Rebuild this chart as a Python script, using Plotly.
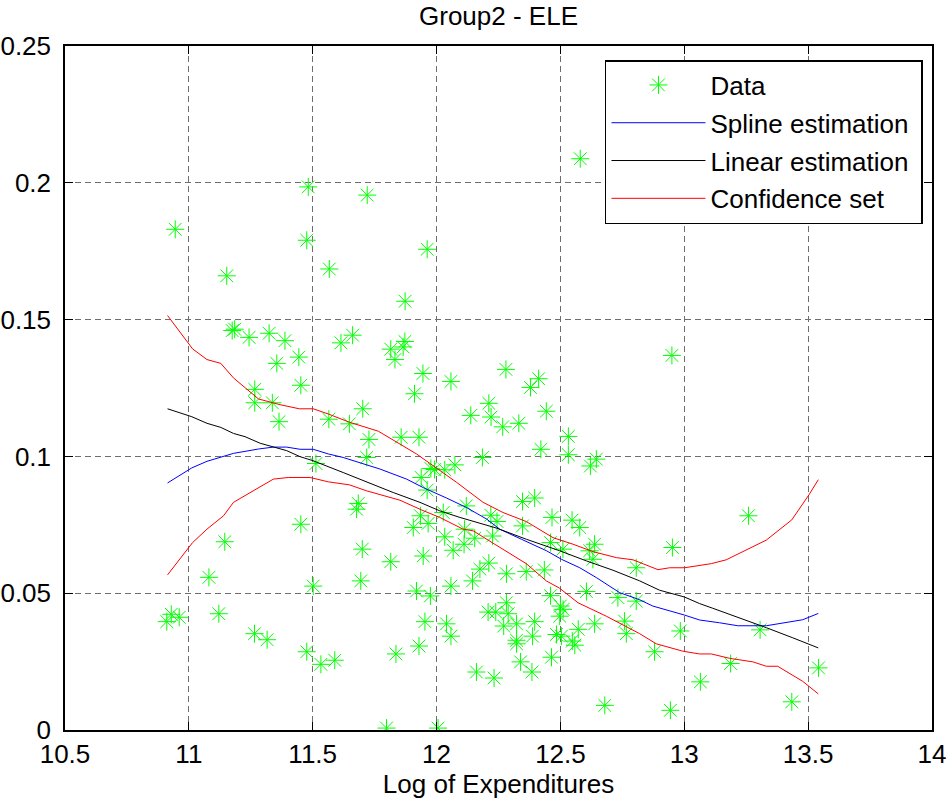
import plotly.graph_objects as go

# ---- data ----
data_x = [10.945, 11.153, 11.482, 11.476, 11.567, 11.72, 11.962, 12.58, 11.175, 11.185,
          11.243, 11.324, 11.388, 11.355, 11.444, 11.452, 11.614, 11.661, 11.266, 11.266,
          11.337, 11.364, 11.565, 11.648, 11.513, 11.684, 11.677, 11.452, 11.145, 11.081,
          11.502, 11.70, 11.694, 11.815, 10.929, 10.911, 10.961, 11.121, 11.265, 11.316,
          11.476, 11.533, 11.589, 11.873, 11.815, 11.872, 11.865, 11.832, 11.945, 12.058,
          11.911, 12.28, 12.412, 12.379, 12.211, 12.138, 12.22, 12.267, 12.332, 12.443,
          11.702, 11.727, 11.857, 11.929, 11.718, 12.532, 12.532, 12.421, 12.185, 12.645,
          12.621, 11.992, 12.033, 12.074, 11.977, 11.938, 11.962, 12.347, 12.396, 12.466,
          12.547, 12.578, 12.12, 12.219, 12.244, 12.347, 12.027, 11.935, 11.966, 11.906,
          12.033, 12.067, 12.113, 12.111, 12.154, 12.226, 12.46, 12.51, 12.618, 12.638,
          12.631, 12.806, 11.946, 12.175, 12.211, 12.145, 12.282, 12.362, 12.435, 12.058,
          11.919, 11.975, 12.46, 12.605, 12.732, 12.806, 12.282, 12.208, 12.239, 12.289,
          12.50, 12.511, 12.497, 11.953, 12.04, 12.058, 11.929, 11.836, 12.271, 12.323,
          12.396, 12.387, 12.323, 12.323, 12.484, 12.504, 12.548, 12.558, 12.572, 12.638,
          12.759, 12.766, 12.339, 12.385, 12.464, 12.161, 12.232, 12.679, 11.798, 12.006,
          12.952, 13.259, 12.984, 12.88, 13.187, 13.065, 12.944, 13.306, 13.542, 13.434,
          12.95]
data_y = [0.183, 0.166, 0.1985, 0.179, 0.1685, 0.1955, 0.1757, 0.2088, 0.146, 0.1465,
          0.1435, 0.145, 0.1423, 0.134, 0.1363, 0.126, 0.1415, 0.1443, 0.1245, 0.1196,
          0.1196, 0.1127, 0.1136, 0.1119, 0.0974, 0.0828, 0.0807, 0.0752, 0.0688, 0.0558,
          0.0526, 0.0661, 0.0545, 0.0615, 0.0423, 0.0396, 0.0412, 0.0425, 0.0352, 0.033,
          0.0286, 0.024, 0.0255, 0.1567, 0.1392, 0.142, 0.140, 0.1354, 0.1303, 0.1274,
          0.1229, 0.1318, 0.1284, 0.1252, 0.1194, 0.115, 0.1144, 0.1108, 0.1121, 0.1165,
          0.1174, 0.1062, 0.107, 0.107, 0.0996, 0.1073, 0.1006, 0.1026, 0.0996, 0.099,
          0.0965, 0.0952, 0.0951, 0.0969, 0.0956, 0.0923, 0.0877, 0.0835, 0.0848, 0.0777,
          0.0767, 0.074, 0.0819, 0.0785, 0.0762, 0.0746, 0.0795, 0.0783, 0.0755, 0.074,
          0.0706, 0.0657, 0.0734, 0.0679, 0.0701, 0.0709, 0.0685, 0.0661, 0.0655, 0.0679,
          0.0624, 0.0593, 0.0636, 0.0588, 0.061, 0.0545, 0.0571, 0.0579, 0.0585, 0.0526,
          0.0508, 0.049, 0.0491, 0.0506, 0.0484, 0.0471, 0.0465, 0.0431, 0.0431, 0.0425,
          0.0453, 0.0441, 0.0416, 0.0396, 0.0388, 0.0343, 0.0307, 0.0278, 0.038, 0.0388,
          0.0396, 0.0343, 0.0328, 0.0315, 0.0349, 0.0343, 0.0325, 0.031, 0.0368, 0.0388,
          0.0398, 0.0352, 0.0249, 0.0212, 0.0266, 0.0212, 0.019, 0.009, 0.0007, 0.0007,
          0.0667, 0.0783, 0.0362, 0.0286, 0.0243, 0.0176, 0.0072, 0.0366, 0.0227, 0.0103,
          0.1369]

spline_x = [10.914, 11.012, 11.073, 11.18, 11.281, 11.341, 11.395, 11.449, 11.502, 11.563,
            11.623, 11.691, 11.771, 11.879, 11.946, 12.04, 12.121, 12.202, 12.255, 12.343,
            12.444, 12.504, 12.578, 12.645, 12.739, 12.82, 12.873, 13.001, 13.062, 13.142,
            13.216, 13.331, 13.411, 13.478, 13.541]
spline_y = [0.0903, 0.0958, 0.0982, 0.1011, 0.1027, 0.1034, 0.1034, 0.1026, 0.1026, 0.1009,
            0.0996, 0.0978, 0.0954, 0.0917, 0.0886, 0.0848, 0.0813, 0.0771, 0.0734, 0.0697,
            0.0655, 0.0624, 0.0593, 0.0557, 0.0502, 0.0476, 0.0453, 0.042, 0.0402, 0.0392,
            0.0381, 0.0381, 0.0392, 0.0403, 0.0426]

linear_x = [10.914, 11.012, 11.073, 11.129, 11.18, 11.227, 11.288, 11.395, 11.449, 11.502,
            11.623, 11.688, 11.825, 11.933, 12.013, 12.094, 12.175, 12.242, 12.363, 12.497,
            12.605, 12.712, 12.82, 12.9, 13.001, 13.062, 13.115, 13.223, 13.331, 13.438,
            13.541]
linear_y = [0.1174, 0.1145, 0.1121, 0.1106, 0.1084, 0.1072, 0.1048, 0.1021, 0.0999, 0.0984,
            0.0941, 0.0917, 0.0868, 0.0832, 0.0801, 0.0777, 0.0755, 0.0738, 0.0697, 0.0655,
            0.0618, 0.0584, 0.0545, 0.0511, 0.0486, 0.0462, 0.0445, 0.041, 0.0374, 0.0337,
            0.030]

upper_x = [10.914, 11.015, 11.073, 11.129, 11.18, 11.281, 11.368, 11.446, 11.502, 11.563,
           11.648, 11.765, 11.919, 12.0, 12.081, 12.188, 12.268, 12.362, 12.47, 12.551,
           12.631, 12.726, 12.793, 12.894, 12.941, 13.001, 13.109, 13.169, 13.223, 13.331,
           13.434, 13.505, 13.541]
upper_y = [0.1515, 0.1393, 0.1354, 0.134, 0.1287, 0.121, 0.1189, 0.1174, 0.1174, 0.1155,
           0.1125, 0.1092, 0.1009, 0.0958, 0.0905, 0.0832, 0.0795, 0.0762, 0.0703, 0.0679,
           0.0652, 0.063, 0.0622, 0.0586, 0.0593, 0.0593, 0.0608, 0.0622, 0.0646, 0.0694,
           0.0768, 0.0862, 0.0915]

lower_x = [10.914, 11.015, 11.073, 11.14, 11.18, 11.26, 11.341, 11.402, 11.489, 11.563,
           11.648, 11.718, 11.852, 11.94, 12.013, 12.107, 12.148, 12.235, 12.362, 12.443,
           12.497, 12.571, 12.685, 12.82, 12.887, 12.994, 13.062, 13.109, 13.183, 13.277,
           13.331, 13.377, 13.478, 13.541]
lower_y = [0.0567, 0.0685, 0.0734, 0.0783, 0.0832, 0.0874, 0.0917, 0.0923, 0.0923, 0.0907,
           0.0896, 0.0874, 0.084, 0.0804, 0.0777, 0.0734, 0.0728, 0.0679, 0.0608, 0.0545,
           0.0518, 0.0465, 0.0416, 0.0352, 0.0315, 0.0288, 0.0278, 0.0278, 0.0262, 0.0249,
           0.0233, 0.0233, 0.0178, 0.0132]

x_ticks = [10.5, 11, 11.5, 12, 12.5, 13, 13.5, 14]
x_tick_labels = ["10.5", "11", "11.5", "12", "12.5", "13", "13.5", "14"]
y_ticks = [0, 0.05, 0.1, 0.15, 0.2, 0.25]
y_tick_labels = ["0", "0.05", "0.1", "0.15", "0.2", "0.25"]

FONT = "Liberation Sans, Arial, Helvetica, sans-serif"
FS = 26
PAD = "\u00a0"  # small right padding inside the legend box

fig = go.Figure()
fig.add_trace(go.Scatter(x=data_x, y=data_y, mode="markers", name="Data" + PAD, legendgroup="a",
                         marker=dict(symbol="asterisk-open", size=15,
                                     line=dict(color="#00ff00", width=1), color="#00ff00")))
fig.add_trace(go.Scatter(x=spline_x, y=spline_y, mode="lines", name="Spline estimation" + PAD,
                         legendgroup="b", line=dict(color="#0000ff", width=1)))
fig.add_trace(go.Scatter(x=linear_x, y=linear_y, mode="lines", name="Linear estimation" + PAD,
                         legendgroup="c", line=dict(color="#000000", width=1)))
fig.add_trace(go.Scatter(x=upper_x, y=upper_y, mode="lines", name="Confidence set" + PAD,
                         legendgroup="d", line=dict(color="#ff0000", width=1)))
fig.add_trace(go.Scatter(x=lower_x, y=lower_y, mode="lines", name="Confidence set",
                         legendgroup="d", showlegend=False, line=dict(color="#ff0000", width=1)))

axis_common = dict(showline=True, linecolor="black", linewidth=1.5, mirror="ticks",
                   ticks="inside", ticklen=8, tickcolor="black", tickwidth=1,
                   showgrid=True, gridcolor="#6e6e6e", gridwidth=1, griddash="6px,4px",
                   zeroline=False, automargin=False,
                   tickfont=dict(family=FONT, size=FS, color="black"))

fig.update_layout(
    width=949, height=800,
    margin=dict(l=65, r=17, t=46, b=70),
    paper_bgcolor="white", plot_bgcolor="white",
    title=dict(text="Group2 - ELE", x=0.5, xref="paper", xanchor="center",
               y=1 - 16 / 800, yref="container", yanchor="middle",
               font=dict(family=FONT, size=FS, color="black")),
    xaxis=dict(range=[10.5, 14], tickvals=x_ticks, ticktext=x_tick_labels,
               ticklabelstandoff=0,
               title=dict(text="Log of Expenditures", standoff=6,
                          font=dict(family=FONT, size=FS, color="black")),
               **axis_common),
    yaxis=dict(range=[0, 0.25], tickvals=y_ticks, ticktext=y_tick_labels,
               ticklabelstandoff=7, **axis_common),
    legend=dict(x=0.9896, y=0.9795, xanchor="right", yanchor="top",
                bgcolor="white", bordercolor="black", borderwidth=1.5,
                itemwidth=94,
                font=dict(family=FONT, size=FS, color="black"), tracegroupgap=1),
    showlegend=True,
)

fig.write_html("out.html", config={"displayModeBar": False},
               post_script="document.body.style.margin='0px';document.body.style.overflow='hidden';")
